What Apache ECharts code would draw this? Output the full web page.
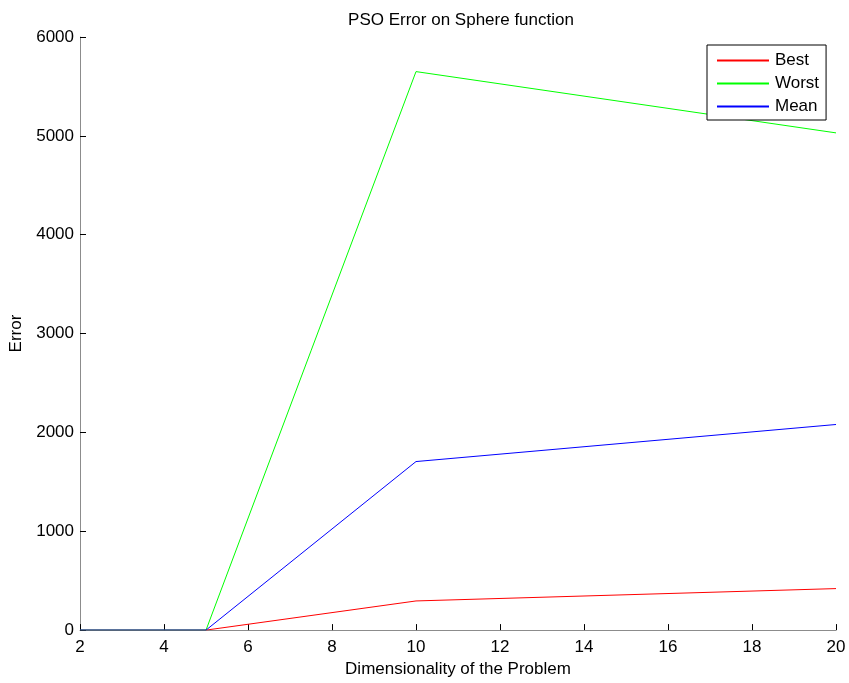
<!DOCTYPE html>
<html>
<head>
<meta charset="utf-8">
<script src="https://cdn.jsdelivr.net/npm/echarts@6/dist/echarts.min.js"></script>
<style>
  html, body { margin: 0; padding: 0; background: #fff; }
  #chart { width: 849px; height: 683px; }
</style>
</head>
<body>
<div id="chart"></div>
<script>
// Problem dimensionality on the x axis
const dimensions = [2, 5, 10, 20];
// PSO error statistics per dimensionality
const bestError = [0, 0, 295, 420];
const worstError = [0, 0, 5650, 5030];
const meanError = [0, 0, 1705, 2080];

const seriesNames = ['Best', 'Worst', 'Mean'];
const seriesColors = ['#ff0000', '#00ff00', '#0000ff'];
const seriesValues = [bestError, worstError, meanError];

const font = 'Liberation Sans, Arial, Helvetica, sans-serif';

const chart = echarts.init(document.getElementById('chart'));

const series = seriesNames.map((name, i) => ({
  name,
  type: 'line',
  data: dimensions.map((d, j) => [d, seriesValues[i][j]]),
  symbol: 'none',
  color: seriesColors[i],
  lineStyle: { color: seriesColors[i], width: 1 },
  itemStyle: { color: seriesColors[i] },
  animation: false
}));

chart.setOption({
  backgroundColor: '#ffffff',
  animation: false,
  title: {
    text: 'PSO Error on Sphere function',
    left: 456,
    textAlign: 'center',
    top: 7,
    textStyle: { fontFamily: font, fontSize: 17, fontWeight: 'normal', color: '#000' }
  },
  legend: {
    orient: 'vertical',
    left: 707,
    top: 45,
    padding: [7, 7, 5, 10],
    itemGap: 6,
    itemWidth: 52,
    itemHeight: 2,
    icon: 'rect',
    borderColor: '#000',
    borderWidth: 1,
    backgroundColor: '#fff',
    textStyle: { fontFamily: font, fontSize: 17, lineHeight: 17, color: '#000', padding: [0, 0, 0, 1] },
    data: seriesNames.map((name, i) => ({
      name,
      icon: 'rect',
      itemStyle: { color: seriesColors[i] }
    }))
  },
  grid: { left: 80, right: 13, top: 37, bottom: 51 },
  xAxis: {
    type: 'value',
    min: 2,
    max: 20,
    interval: 2,
    name: 'Dimensionality of the Problem',
    nameLocation: 'middle',
    nameGap: 23,
    nameTextStyle: { fontFamily: font, fontSize: 17, color: '#000' },
    axisLine: { lineStyle: { color: '#8c8c8c', width: 1 } },
    axisTick: { inside: true, length: 6, lineStyle: { color: '#000' } },
    axisLabel: { fontFamily: font, fontSize: 17, color: '#000', margin: 9, formatter: v => String(v) },
    splitLine: { show: false }
  },
  yAxis: {
    type: 'value',
    min: 0,
    max: 6000,
    interval: 1000,
    name: 'Error',
    nameLocation: 'middle',
    nameGap: 54,
    nameTextStyle: { fontFamily: font, fontSize: 17, color: '#000' },
    axisLine: { show: true, lineStyle: { color: '#8c8c8c', width: 1 } },
    axisTick: { show: true, inside: true, length: 6, lineStyle: { color: '#000' } },
    axisLabel: { fontFamily: font, fontSize: 17, color: '#000', margin: 6, formatter: v => String(v) },
    splitLine: { show: false }
  },
  series
});
</script>
</body>
</html>
